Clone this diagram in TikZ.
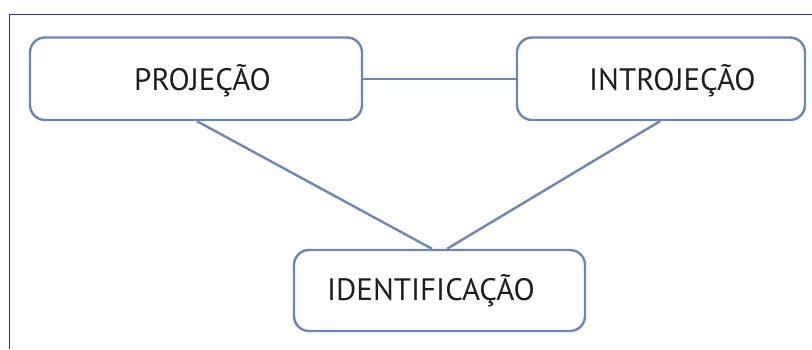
\documentclass[tikz,border=0pt]{standalone}
\usepackage{fontspec}
\setmainfont{PT Sans}
\usetikzlibrary{calc}
\definecolor{boxblue}{HTML}{6B87B8}
\definecolor{framblue}{HTML}{2E3192}
\tikzset{
  box/.style={draw=boxblue, line width=2.4pt, rounded corners=15pt, fill=white, inner sep=0pt},
  conn/.style={draw=boxblue, line width=2.4pt},
  lbl/.style={anchor=base west, inner sep=0pt, text=black!88, font=\fontsize{31}{31}\selectfont},
  frame/.style={draw=framblue, line width=1.4pt}
}
\begin{document}
\begin{tikzpicture}[x=1pt,y=-1pt]
\useasboundingbox (0,0) rectangle (812,349);
\coordinate (ftop) at (812,14.5);
\coordinate (fcorner) at (9.5,14.5);
\coordinate (fbot) at (9.5,349);
\draw[frame] (ftop) -- (fcorner) -- (fbot);
\node[box, minimum width=332pt, minimum height=82.5pt] (proj) at (196,78.75) {};
\node[box, minimum width=288pt, minimum height=82.5pt] (intro) at (661,78.75) {};
\node[box, minimum width=291pt, minimum height=81pt] (ident) at (439.5,290.5) {};
\node[lbl] (tproj) at (134,90) {PROJEÇÃO};
\node[lbl] (tintro) at (589,90) {INTROJEÇÃO};
\node[lbl] (tident) at (327,300.5) {IDENTIFICAÇÃO};
\draw[conn] (proj.east) -- (intro.west);
\draw[conn] ($(proj.south)+(1,0)$) -- ($(ident.north)+(-7.5,0)$);
\draw[conn] ($(intro.south)+(-1,0)$) -- ($(ident.north)+(7.5,0)$);
\end{tikzpicture}
\end{document}
